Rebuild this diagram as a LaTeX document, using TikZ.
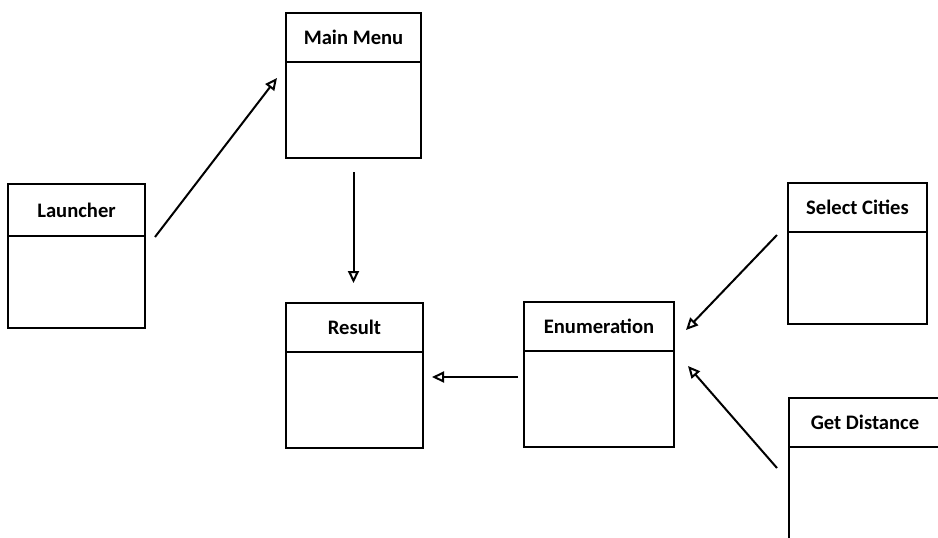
\documentclass[tikz,border=0pt]{standalone}
\usepackage{fontspec}
\setmainfont{Carlito}
\usetikzlibrary{arrows.meta,positioning,calc}
\tikzset{
    classhead/.style={
        draw,
        line width=1.1pt,
        anchor=north west,
        inner sep=0pt,
        outer sep=0pt,
        minimum width=#1,
        minimum height=24.5pt,
        font=\bfseries\fontsize{10.3}{12}\selectfont
    },
    classbody/.style={
        draw,
        line width=1.1pt,
        inner sep=0pt,
        outer sep=0pt,
        minimum width=#1,
        minimum height=48pt
    },
    assoc/.style={
        -{Triangle[open,length=6pt,width=5.5pt]},
        line width=1pt
    }
}

\begin{document}
\begin{tikzpicture}[x=0.5pt, y=-0.5pt]
    \useasboundingbox (0,0) rectangle (938,537);
    \clip (0,0) rectangle (938,537);

    % classes: a title box with an empty body under it
    \node[classhead=68.5pt, minimum height=26pt] (launcher) at (8,184) {Launcher};
    \node[classbody=68.5pt, minimum height=46pt, below=0pt of launcher] (launcher-body) {};
    \node[classhead=67.5pt] (menu) at (286,13) {Main Menu};
    \node[classbody=67.5pt, below=0pt of menu] (menu-body) {};
    \node[classhead=68.5pt] (result) at (286,303) {Result};
    \node[classbody=68.5pt, below=0pt of result] (result-body) {};
    \node[classhead=75pt] (enum) at (524,302) {Enumeration};
    \node[classbody=75pt, below=0pt of enum] (enum-body) {};
    \node[classhead=69.5pt] (select) at (788,183) {Select Cities};
    \node[classbody=69.5pt, minimum height=46pt, below=0pt of select] (select-body) {};
    \node[classhead=76pt] (getdist) at (789,398) {Get Distance};
    \node[classbody=76pt, minimum height=60pt, below=0pt of getdist] (getdist-body) {};

    % associations
    \draw[assoc] ($(launcher.south east)+(10,1)$) -- ($(menu.south west)+(-9,16)$);
    \draw[assoc, shorten <=7pt, shorten >=10pt] (menu-body.south) -- (menu-body.south |- result.north);
    \draw[assoc] ($(enum-body.north west)+(-6,26)$) -- ($(result-body.north east)+(9,25)$);
    \draw[assoc] ($(select.south west)+(-11,3)$) -- ($(enum.south east)+(12,-21)$);
    \draw[assoc] ($(getdist.south west)+(-12,21)$) -- ($(enum-body.north east)+(14,15)$);
\end{tikzpicture}
\end{document}
